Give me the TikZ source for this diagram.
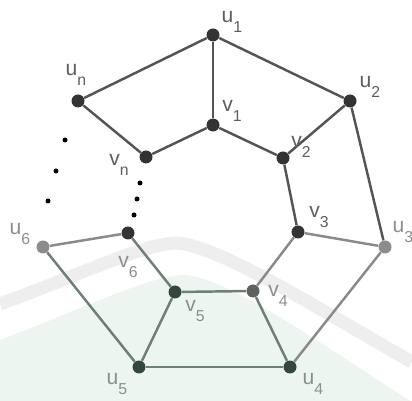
\documentclass[tikz,border=0pt]{standalone}
\usepackage{fontspec}
\setmainfont{Liberation Sans}
\newcommand{\lb}[2]{#1\raisebox{-5.5pt}{\fontsize{9}{10}\selectfont #2}}
\definecolor{dk}{HTML}{333333}
\definecolor{lg}{HTML}{8C8C8C}
\definecolor{mg}{HTML}{5E625F}
\definecolor{gn}{HTML}{34473C}
\definecolor{ed}{HTML}{545454}
\definecolor{edl}{HTML}{8A8A8A}
\definecolor{edg}{HTML}{6E8074}
\definecolor{band}{HTML}{EEEEEE}
\definecolor{wgreen}{HTML}{EDF5F0}
\definecolor{tx}{HTML}{5E5E5E}
\definecolor{txl}{HTML}{8E8E8E}
\begin{document}
\begin{tikzpicture}[x=0.02cm,y=-0.02cm,
  vtx/.style={circle,fill=#1,inner sep=0pt,minimum size=0.26cm},
  dotn/.style={circle,fill=black,inner sep=0pt,minimum size=0.1cm},
  ln/.style={line width=1.4pt,draw=#1},
  lab/.style={inner sep=0pt,text=#1,font=\fontsize{12}{14}\selectfont}]
\useasboundingbox (0,0) rectangle (412,401);
% watermark
\fill[wgreen] (0,340) .. controls (80,310) and (150,275) .. (185,275)
  .. controls (230,278) and (330,350) .. (412,402) -- (412,401) -- (0,401) -- cycle;
\draw[band,line width=0.26cm,line cap=butt] (0,304) .. controls (80,275) and (140,245) .. (175,243)
  .. controls (215,243) and (320,310) .. (412,362);
% vertices
\node[vtx=dk] (u1) at (213,35) {};
\node[vtx=dk] (un) at (78,101) {};
\node[vtx=dk] (u2) at (350,101) {};
\node[vtx=dk] (v1) at (213,125) {};
\node[vtx=dk] (vn) at (146,157) {};
\node[vtx=dk] (v2) at (283,158) {};
\node[vtx=dk] (v3) at (298,232) {};
\node[vtx=lg] (u3) at (385,247) {};
\node[vtx=lg] (u6) at (43,247) {};
\node[vtx=dk] (v6) at (128,233) {};
\node[vtx=gn] (v5) at (175,292) {};
\node[vtx=mg] (v4) at (253,291) {};
\node[vtx=gn] (u5) at (139,367) {};
\node[vtx=gn] (u4) at (290,367) {};
% dots
\node[dotn] (d1) at (65,140) {};
\node[dotn] (d2) at (56,171) {};
\node[dotn] (d3) at (48,201) {};
\node[dotn] (d4) at (140,183) {};
\node[dotn] (d5) at (137,199) {};
\node[dotn] (d6) at (134,215) {};
% edges
\draw[ln=ed] (u1) -- (un);
\draw[ln=ed] (u1) -- (u2);
\draw[ln=ed] (u1) -- (v1);
\draw[ln=ed] (un) -- (vn);
\draw[ln=ed] (v1) -- (vn);
\draw[ln=ed] (v1) -- (v2);
\draw[ln=ed] (v2) -- (u2);
\draw[ln=ed] (v2) -- (v3);
\draw[ln=ed] (u2) -- (u3);
\draw[ln=edl] (v3) -- (u3);
\draw[ln=edl] (v3) -- (v4);
\draw[ln=edl] (u3) -- (u4);
\draw[ln=edl] (u6) -- (v6);
\draw[ln=edg] (v6) -- (v5);
\draw[ln=edg] (u6) -- (u5);
\draw[ln=edg] (v5) -- (v4);
\draw[ln=edg] (v5) -- (u5);
\draw[ln=edg] (u5) -- (u4);
\draw[ln=edg] (v4) -- (u4);
% labels
\node[lab=tx] (lu1) at (232,22) {\lb{u}{1}};
\node[lab=tx] (lun) at (76,75) {\lb{u}{n}};
\node[lab=tx] (lu2) at (370,87) {\lb{u}{2}};
\node[lab=tx] (lv1) at (232,111) {\lb{v}{1}};
\node[lab=tx] (lv2) at (301,147) {\lb{v}{2}};
\node[lab=tx] (lvn) at (119,165) {\lb{v}{n}};
\node[lab=tx] (lv3) at (319,217) {\lb{v}{3}};
\node[lab=txl] (lu3) at (403,232) {\lb{u}{3}};
\node[lab=txl] (lu6) at (20,234) {\lb{u}{6}};
\node[lab=txl] (lv6) at (128,267) {\lb{v}{6}};
\node[lab=txl] (lv5) at (195,311) {\lb{v}{5}};
\node[lab=txl] (lv4) at (278,296) {\lb{v}{4}};
\node[lab=txl] (lu5) at (117,384) {\lb{u}{5}};
\node[lab=txl] (lu4) at (313,384) {\lb{u}{4}};
\end{tikzpicture}
\end{document}
